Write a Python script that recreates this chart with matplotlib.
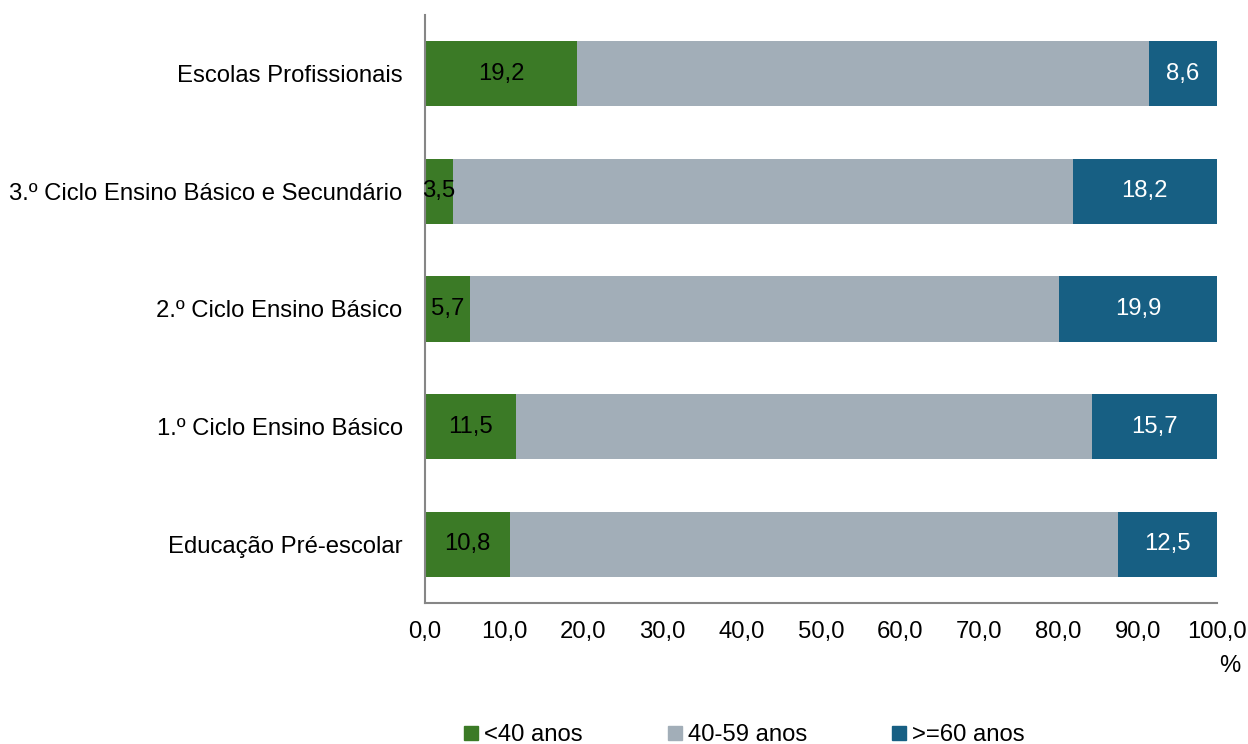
import numpy as np
import matplotlib.pyplot as plt
from matplotlib.lines import Line2D

plt.rcParams['font.family'] = ['Liberation Sans', 'DejaVu Sans']

categories = ['Educação Pré-escolar', '1.º Ciclo Ensino Básico', '2.º Ciclo Ensino Básico',
              '3.º Ciclo Ensino Básico e Secundário', 'Escolas Profissionais']
under40 = np.array([10.8, 11.5, 5.7, 3.5, 19.2])
over60 = np.array([12.5, 15.7, 19.9, 18.2, 8.6])
mid = 100 - under40 - over60
series_names = ['<40 anos', '40-59 anos', '>=60 anos']
colors = ['#3b7a26', '#a2aeb8', '#175f83']
xticks = np.arange(0, 101, 10)

fs = 17.2
fig = plt.figure(figsize=(12.48, 7.44), dpi=100)
ax = fig.add_axes([0.3405, 0.1895, 0.975 - 0.3405, 0.98 - 0.1895])

y = np.arange(len(categories))
h = 0.555
ax.barh(y, under40, height=h, color=colors[0])
ax.barh(y, mid, left=under40, height=h, color=colors[1])
ax.barh(y, over60, left=under40 + mid, height=h, color=colors[2])

for i in range(len(categories)):
    ax.text(under40[i] / 2, y[i], f'{under40[i]:.1f}'.replace('.', ','),
            ha='center', va='center', fontsize=fs, color='black')
    ax.text(100 - over60[i] / 2, y[i], f'{over60[i]:.1f}'.replace('.', ','),
            ha='center', va='center', fontsize=fs, color='white')

ax.set_xlim(0, 100)
ax.set_ylim(-0.5, 4.5)
ax.set_yticks(y)
ax.set_yticklabels(categories, fontsize=fs)
ax.set_xticks(xticks)
ax.set_xticklabels([f'{v:.1f}'.replace('.', ',') for v in xticks], fontsize=fs)
ax.tick_params(axis='both', length=0)
ax.tick_params(axis='y', pad=16)
ax.tick_params(axis='x', pad=13)
for s in ['top', 'right']:
    ax.spines[s].set_visible(False)
for s in ['left', 'bottom']:
    ax.spines[s].set_color('#868686')
    ax.spines[s].set_linewidth(1.5)

fig.text(1230 / 1248, 1 - 666 / 744, '%', ha='center', va='center', fontsize=fs)

handles = [Line2D([], [], marker='s', linestyle='none', markersize=9.5,
                  markerfacecolor=c, markeredgecolor=c) for c in colors]
fig.legend(handles, series_names, loc='center', bbox_to_anchor=(0.595, 1 - 735 / 744),
           ncol=3, frameon=False, fontsize=fs, handletextpad=0.1, columnspacing=3.4,
           handlelength=0.9)

fig.savefig('out.png', dpi=100)
